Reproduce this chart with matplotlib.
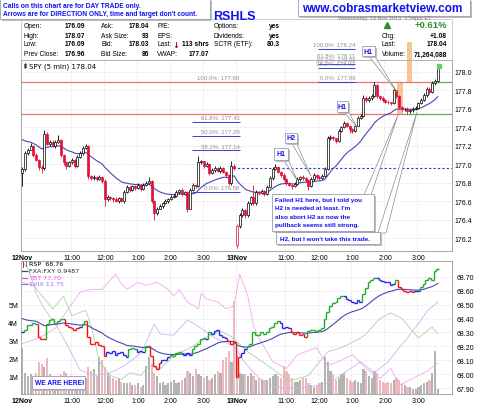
import numpy as np
import matplotlib
matplotlib.use('Agg')
import matplotlib.pyplot as plt
from matplotlib.patches import Rectangle, Polygon
from matplotlib.collections import LineCollection

plt.rcParams['font.family'] = ['Liberation Sans', 'DejaVu Sans']

# ------------------------------------------------ data
# SPY 5 min closes : 12 Nov (78 bars) then 13 Nov (74 bars)
spy_close = [
    176.95, 177.12, 177.16, 177.20, 177.10, 177.05, 176.97, 176.96, 177.33, 177.22,
    177.24, 177.20, 177.24, 177.26, 177.10, 177.02, 176.98, 177.02, 177.05, 176.98,
    177.08, 177.12, 177.18, 177.20, 176.87, 176.85, 176.86, 176.84, 176.86, 176.82,
    176.62, 176.65, 176.63, 176.62, 176.60, 176.63, 176.60, 176.70, 176.75, 176.72,
    176.76, 176.74, 176.78, 176.73, 176.78, 176.80, 176.82, 176.60, 176.47, 176.52,
    176.55, 176.58, 176.60, 176.62, 176.65, 176.66, 176.70, 176.72, 176.68, 176.70,
    176.52, 176.72, 176.78, 176.76, 177.02, 177.03, 176.98, 177.00, 176.90, 176.94,
    176.96, 176.93, 176.96, 176.92, 176.88, 176.80, 176.98, 176.96,
    176.33, 176.45, 176.50, 176.45, 176.58, 176.64, 176.58, 176.70, 176.69, 176.71,
    176.68, 176.75, 176.85, 176.95, 176.97, 176.92, 176.88, 176.84, 176.80, 176.78,
    176.76, 176.79, 176.84, 176.86, 176.85, 176.83, 176.76, 176.84, 176.88, 176.86,
    176.85, 176.87, 176.95, 177.28, 177.30, 177.28, 177.25, 177.36, 177.40, 177.45,
    177.42, 177.38, 177.36, 177.42, 177.50, 177.52, 177.72, 177.70, 177.72, 177.74,
    177.86, 177.74, 177.72, 177.70, 177.68, 177.67, 177.66, 177.80, 177.74, 177.62,
    177.60, 177.60, 177.58, 177.59, 177.60, 177.61, 177.66, 177.70, 177.75, 177.82,
    177.78, 177.88, 177.90, 178.04]
session_start = [0, 78]
session_open = [176.90, 176.12]
# wicks beyond the body, in cents
up_wick = [2,2,2,3,1,2,1,2,4,2,2,2,2,6,1,1,2,2,2,1,2,2,2,2,1,1,
           2,1,2,1,2,2,1,1,2,1,2,2,2,1,2,1,2,1,2,2,4,1,1,2,2,1,
           2,1,2,2,2,1,2,1,1,2,2,1,7,2,1,2,1,2,2,1,2,1,1,1,6,2,
           2,2,3,1,2,2,13,2,1,2,1,2,2,2,3,1,1,2,1,1,1,2,2,1,2,1,
           1,2,2,1,2,2,2,3,2,1,1,2,2,2,1,1,1,2,2,2,3,2,2,2,3,1,
           1,2,1,2,1,3,1,1,1,1,2,1,2,2,2,2,2,2,2,2,2,3]
dn_wick = [14,2,2,1,2,2,3,6,2,1,2,1,2,1,2,3,3,1,2,2,1,1,2,1,3,2,
           2,2,1,2,7,2,2,3,1,2,1,2,1,2,1,2,1,2,1,2,1,2,7,2,1,2,
           1,2,1,2,1,2,2,1,4,1,1,2,1,2,2,1,2,1,2,1,2,2,2,3,2,2,
           3,2,2,3,2,2,2,2,2,1,2,1,1,2,1,2,2,2,2,2,3,1,1,2,2,2,
           4,1,2,2,2,1,1,1,2,2,2,1,1,1,2,4,2,1,1,1,1,2,2,2,1,2,
           2,2,2,2,2,1,2,2,2,2,3,2,2,1,1,1,1,2,2,1,2,1]
# SPY volume, millions
spy_vol = [2.6, 1.2, 1.0, 1.1, 0.9, 1.2, 1.8, 1.7, 1.5, 2.0,
           1.1, 1.0, 0.9, 1.0, 1.1, 1.3, 1.2, 0.8, 0.9, 1.0,
           0.8, 0.9, 0.7, 0.8, 1.5, 1.3, 1.4, 1.0, 2.1, 1.9,
           1.5, 1.2, 1.0, 0.9, 0.8, 0.9, 0.7, 0.6, 0.6, 0.7,
           0.5, 0.5, 0.6, 0.4, 0.5, 1.6, 2.1, 1.7, 1.2, 1.0,
           0.6, 0.7, 0.5, 0.6, 0.7, 0.8, 0.6, 0.7, 0.8, 0.9,
           1.3, 1.2, 1.0, 1.4, 1.1, 1.0, 0.9, 1.0, 0.8, 0.9,
           1.1, 1.3, 1.2, 1.9, 2.1, 2.4, 1.8, 5.2,
           2.2, 1.2, 1.1, 1.1, 1.0, 1.2, 1.0, 0.8, 0.9, 0.8,
           0.8, 0.8, 0.9, 1.0, 1.1, 1.0, 0.9, 1.6, 1.3, 1.1,
           0.9, 0.7, 0.7, 0.8, 0.9, 0.9, 0.6, 0.5, 0.4, 0.5,
           0.6, 0.7, 2.1, 1.8, 1.3, 1.1, 0.8, 0.9, 1.1, 1.2,
           0.9, 0.8, 0.7, 0.8, 0.7, 0.6, 1.4, 1.3, 1.0, 0.9,
           1.3, 1.2, 0.8, 0.7, 0.6, 0.7, 0.6, 0.8, 0.9, 0.8,
           0.6, 0.5, 0.4, 0.4, 0.3, 0.3, 0.4, 0.5, 0.6, 0.7,
           0.8, 1.2, 2.4, 0.3]
# RSP closes (lower panel)
rsp_close = [68.30, 68.32, 68.35, 68.35, 68.37, 68.36, 68.27, 68.25, 68.25, 68.36,
             68.39, 68.40, 68.37, 68.38, 68.40, 68.40, 68.35, 68.34, 68.33, 68.32,
             68.33, 68.34, 68.36, 68.38, 68.27, 68.22, 68.22, 68.23, 68.21, 68.20,
             68.13, 68.16, 68.15, 68.17, 68.14, 68.15, 68.16, 68.14, 68.12, 68.18,
             68.19, 68.18, 68.16, 68.17, 68.16, 68.20, 68.20, 68.13, 68.06, 68.04,
             68.08, 68.10, 68.10, 68.12, 68.14, 68.13, 68.15, 68.16, 68.15, 68.14,
             68.15, 68.14, 68.18, 68.20, 68.22, 68.25, 68.26, 68.25, 68.30, 68.29,
             68.31, 68.32, 68.28, 68.27, 68.26, 68.24, 68.22, 68.23,
             67.98, 68.12, 68.15, 68.18, 68.20, 68.22, 68.30, 68.28, 68.28, 68.30,
             68.29, 68.30, 68.33, 68.34, 68.37, 68.38, 68.37, 68.33, 68.34, 68.33,
             68.30, 68.29, 68.30, 68.28, 68.29, 68.27, 68.31, 68.32, 68.32, 68.31,
             68.32, 68.33, 68.40, 68.45, 68.49, 68.51, 68.52, 68.55, 68.56, 68.56,
             68.54, 68.53, 68.52, 68.51, 68.53, 68.52, 68.58, 68.62, 68.66, 68.68,
             68.69, 68.69, 68.68, 68.67, 68.66, 68.66, 68.64, 68.65, 68.68, 68.63,
             68.61, 68.60, 68.59, 68.60, 68.59, 68.60, 68.60, 68.63, 68.65, 68.68,
             68.69, 68.68, 68.74, 68.76]
# comparison overlays, (bar, level on the panel scale)
fxa_bar = [0, 4, 11, 15, 18, 23, 25, 28, 32, 36, 39, 43, 46, 50, 54, 57, 61, 65, 68, 72, 76,
           82, 88, 97, 104, 111, 116, 123, 125, 130, 134, 138, 144, 149, 151]
fxa_val = [68.66, 68.64, 68.47, 68.56, 68.42, 68.46, 68.35, 68.09, 67.99, 67.96, 68.01, 67.99,
           68.06, 68.04, 68.11, 68.15, 68.19, 68.24, 68.28, 68.31, 68.27, 68.16, 68.08, 67.95,
           67.99, 68.16, 68.19, 68.26, 68.29, 68.40, 68.44, 68.40, 68.26, 68.34, 68.29]
tbt_bar = [0, 6, 12, 16, 21, 25, 29, 34, 36, 38, 42, 45, 49, 53, 55, 57, 60, 64, 65, 67, 71,
           74, 77, 79, 82, 84, 86, 91, 96, 100, 107, 111, 116, 120, 125, 130, 134, 137, 142,
           147, 151]
tbt_val = [68.22, 68.26, 68.33, 68.45, 68.59, 68.61, 68.61, 68.72, 68.65, 68.61, 68.66, 68.64,
           68.66, 68.61, 68.56, 68.61, 68.52, 68.47, 68.58, 68.54, 68.52, 68.47, 68.49, 68.72,
           68.56, 68.35, 68.26, 68.09, 68.04, 68.14, 68.19, 68.06, 68.10, 68.14, 68.04, 67.97,
           68.04, 67.92, 67.97, 68.02, 68.08]
vix_bar = [0, 2, 4, 5, 8, 12, 16, 21, 26, 32, 37, 43, 48, 50, 55, 60, 65, 70, 77, 81, 86, 92,
           98, 105, 112, 117, 123, 128, 133, 137, 140, 145, 147, 151]
vix_val = [68.81, 68.76, 68.65, 68.58, 68.47, 68.36, 68.22, 68.03, 67.99, 68.01, 68.06, 68.15,
           68.36, 68.29, 68.28, 68.39, 68.33, 68.26, 68.20, 68.08, 67.97, 67.91, 67.90, 67.91,
           67.94, 68.01, 68.09, 68.01, 68.09, 68.19, 68.26, 68.39, 68.45, 68.52]

tick_bars = [0, 18, 30, 42, 54, 66, 78, 96, 108, 120, 132, 144]
tick_text = ['12Nov', '11:00', '12:00', '1:00', '2:00', '3:00',
             '13Nov', '11:00', '12:00', '1:00', '2:00', '3:00']

fib1 = [(177.46, '61.8%: 177.43'), (177.31, '50.0%: 177.29'),
        (177.15, '38.2%: 177.14'), (176.70, '0.0%: 176.58')]
fib2 = [(178.25, '100.0%: 178.24'), (178.13, '61.8%: 178.11'), (178.09, '50.0%: 178.06'),
        (178.04, '38.2%: 178.02'), (177.89, '0.0%: 177.89')]
res_hi, res_lo, prev_close = 177.89, 177.55, 176.96


def ema(vals, span, seed=None):
    a = 2.0 / (span + 1)
    e = vals[0] if seed is None else seed
    out = []
    for v in vals:
        e = e + a * (v - e)
        out.append(e)
    return np.array(out)


close = np.array(spy_close)
n = len(close)
bars = np.arange(n)
opn = np.r_[close[0], close[:-1]]
for s, o in zip(session_start, session_open):
    opn[s] = o
hi = np.maximum(opn, close) + np.array(up_wick) / 100
lo = np.minimum(opn, close) - np.array(dn_wick) / 100
prev = np.r_[opn[0], close[:-1]]

W, H = 480, 406
fig = plt.figure(figsize=(4.8, 4.06), dpi=100)
XL = (-0.5, 156.2)
RED = '#e0103a'
grid_kw = dict(color='#c8c8c8', lw=0.5, ls=(0, (1, 2)))


def rect_px(x0, y0, x1, y1):
    return [x0 / W, 1 - y1 / H, (x1 - x0) / W, (y1 - y0) / H]


# ------------------------------------------------ price panel
ax = fig.add_axes(rect_px(21, 61, 452, 252))
ax.set_xlim(*XL)
ax.set_ylim(176.06, 178.13)
for t in tick_bars:
    ax.axvline(t - 0.5, **grid_kw, zorder=0)
for yv in np.arange(176.2, 178.01, 0.2):
    ax.axhline(yv, **grid_kw, zorder=0)

ax.add_patch(Rectangle((136.2, res_lo), 2.2, res_hi - res_lo, color='#f6b77a', alpha=0.8,
                       lw=0, zorder=1))
ax.add_patch(Rectangle((139.9, res_hi), 1.8, 0.43, color='#f6b77a', alpha=0.8, lw=0,
                       zorder=1, clip_on=False))

ax.hlines(res_hi, XL[0], 149, color='#f07070', lw=0.9, zorder=2)
ax.hlines(res_hi, 149, XL[1], color='#66aa66', lw=0.9, zorder=2)
ax.hlines(res_lo, XL[0], 137.5, color='#f07070', lw=0.9, zorder=2)
ax.hlines(res_lo, 137.5, XL[1], color='#66aa66', lw=0.9, zorder=2)
ax.hlines(prev_close, 76.5, XL[1], color='#2233ee', lw=0.8, ls=(0, (2, 2)), zorder=2)

ax.text(79, res_hi + 0.02, '100.0%: 177.89', ha='right', va='bottom', fontsize=4.3,
        color='#909090')
for lvl, lab in fib1:
    ax.hlines(lvl, 61.7, 79.1, color='#3344cc', lw=0.7, zorder=2)
    ax.text(79, lvl + 0.02, lab, ha='right', va='bottom', fontsize=4.3, color='#909090')
for lvl, lab in fib2:
    ax.hlines(lvl, 107.5, 121, color='#3344cc', lw=0.7, zorder=2, clip_on=False)
    ax.text(121, lvl + 0.02, lab, ha='right', va='bottom', fontsize=4.3, color='#909090',
            clip_on=False)

ax.plot(bars, ema(close, 20, seed=177.30), color='#4848b8', lw=0.8, zorder=3)

for i in bars:
    col = RED if close[i] < prev[i] else 'black'
    ax.vlines(i, lo[i], hi[i], color=col, lw=0.6, zorder=4)
    b0, b1 = min(opn[i], close[i]), max(opn[i], close[i])
    face = RED if close[i] < opn[i] else 'white'
    ax.add_patch(Rectangle((i - 0.36, b0), 0.72, max(b1 - b0, 0.004), facecolor=face,
                           edgecolor=col, lw=0.5, zorder=5))
ax.plot(n - 0.7, 178.06, marker='s', ms=2.5, color='#66cc66', zorder=6)

ax.yaxis.tick_right()
ax.set_yticks(np.arange(176.2, 178.01, 0.2))
ax.set_yticklabels(['%.1f' % v for v in np.arange(176.2, 178.01, 0.2)])
ax.set_xticks(tick_bars)
ax.set_xticklabels(tick_text)
ax.tick_params(length=0, labelsize=5, pad=2)
for lab in ax.get_xticklabels():
    if 'Nov' in lab.get_text():
        lab.set_fontweight('bold')
for sp in ax.spines.values():
    sp.set_color('#999999')
    sp.set_linewidth(0.6)

# ------------------------------------------------ lower panel
axv = fig.add_axes(rect_px(21, 262, 452, 395))
axv.set_xlim(*XL)
axv.set_ylim(0, 7.47)
vcol = ['#9a9a9a' if c >= p else '#e8a0a8' for c, p in zip(close, prev)]
axv.bar(bars, spy_vol, width=0.8, color=vcol, alpha=0.75, lw=0)
axv.set_yticks([1, 2, 3, 4, 5])
axv.set_yticklabels(['1M', '2M', '3M', '4M', '5M'])
axv.set_xticks(tick_bars)
axv.set_xticklabels(tick_text)
axv.tick_params(length=0, labelsize=5, pad=2)
for lab in axv.get_xticklabels():
    if 'Nov' in lab.get_text():
        lab.set_fontweight('bold')
for sp in axv.spines.values():
    sp.set_color('#999999')
    sp.set_linewidth(0.6)

axr = axv.twinx()
axr.set_xlim(*XL)
axr.set_ylim(67.857, 68.814)
rt = np.arange(67.9, 68.71, 0.1)
for yv in rt:
    axr.axhline(yv, **grid_kw, zorder=0)
for t in tick_bars:
    axr.axvline(t - 0.5, **grid_kw, zorder=0)
axr.set_yticks(rt)
axr.set_yticklabels(['%.2f' % v for v in rt])
axr.tick_params(length=0, labelsize=5, pad=3)
for sp in axr.spines.values():
    sp.set_visible(False)

axr.plot(fxa_bar, fxa_val, color='#a8d4a8', lw=0.6)
axr.plot(tbt_bar, tbt_val, color='#f0a8f0', lw=0.6)
axr.plot(vix_bar, vix_val, color='#cdb4f2', lw=0.6)

rsp = np.array(rsp_close)
axr.plot(bars, ema(rsp, 20, seed=68.41), color='#4848b8', lw=0.8)

# impulse colouring of the RSP steps
e13 = ema(rsp, 13)
macd = ema(rsp, 12) - ema(rsp, 26)
hist = macd - ema(macd, 9)
de = np.diff(e13, prepend=e13[0])
dh = np.diff(hist, prepend=hist[0])
segs, cols = [], []
for i in bars:
    c = '#1faa1f' if (de[i] > 0 and dh[i] > 0) else ('#ee1111' if (de[i] < 0 and dh[i] < 0)
                                                   else '#2020ee')
    if i > 0:
        segs.append([(i - 0.5, rsp[i - 1]), (i - 0.5, rsp[i])])
        cols.append(c)
    segs.append([(i - 0.5, rsp[i]), (i + 0.5, rsp[i])])
    cols.append(c)
axr.add_collection(LineCollection(segs, colors=cols, lw=1.0))

# ------------------------------------------------ overlay (header, notes)
ov = fig.add_axes([0, 0, 1, 1], zorder=10)
ov.set_xlim(0, W)
ov.set_ylim(H, 0)
ov.axis('off')

BLUE = '#1010f0'


def box(x0, y0, x1, y1, edge='#9a9ab0', shadow=True):
    if shadow:
        ov.add_patch(Rectangle((x0 + 1.5, y0 + 1.5), x1 - x0, y1 - y0, color='#bdbdbd', lw=0))
    ov.add_patch(Rectangle((x0, y0), x1 - x0, y1 - y0, facecolor='white', edgecolor=edge,
                           lw=0.6))


def tail(bx0, bx1, by, tx, ty):
    ov.add_patch(Polygon([(bx0, by), (tx, ty), (bx1, by)], closed=True, facecolor='white',
                         edgecolor='#8c8c8c', lw=0.5))


# header block
ov.add_patch(Rectangle((21, 20), 431, 41, facecolor='none', edgecolor='#bbbbbb', lw=0.5))
ov.text(338, 18.8, 'Wednesday, 13 Nov 2013  3:54pm ET', fontsize=4, color='#808080',
        va='center')
box(298, 0, 470, 17)
ov.text(302, 8.5, 'www.cobrasmarketview.com', fontsize=8.5, fontweight='bold', color=BLUE,
        va='center')
ov.text(213, 16.5, 'RSHLS', fontsize=9, fontweight='bold', color=BLUE, va='center')
box(0, 0, 210, 20)
ov.text(3, 6, 'Calls on this chart are for DAY TRADE only.', fontsize=4.8,
        fontweight='bold', color=BLUE, va='center')
ov.text(3, 15, "Arrows are for DIRECTION ONLY, time and target don't count.", fontsize=4.8,
        fontweight='bold', color=BLUE, va='center')

rows_y = [27, 36, 45, 54]
cols_tbl = [(24, 85, ['Open:', 'High:', 'Low:', 'Prev Close:'],
             ['176.09', '178.07', '176.09', '176.96']),
            (101, 149, ['Ask:', 'Ask Size:', 'Bid:', 'Bid Size:'],
             ['178.04', '93', '178.03', '86']),
            (157, 209, ['P/E:', 'EPS:', 'Last:', 'VWAP:'], ['', '', '113 shrs', '177.07']),
            (214, 280, ['Options:', 'Dividends:', 'SCTR (ETF):', ''], ['yes', 'yes', '80.3', ''])]
for lx, vx, labs, vals in cols_tbl:
    for yy, lab, val in zip(rows_y, labs, vals):
        ov.text(lx, yy, lab, fontsize=4.8, va='center')
        ov.text(vx, yy, val, fontsize=4.8, fontweight='bold', va='center', ha='right')
ov.text(176, 45, '\u2193', fontsize=6, fontweight='bold', color='#cc0000', va='center',
        ha='center', family='DejaVu Sans')

ov.plot(386.5, 26, marker='^', ms=5, color='#2e8b2e')
ov.text(447, 25.5, '+0.61%', fontsize=6.8, fontweight='bold', color='#2e8b2e', ha='right',
        va='center')
for yy, lab, val in zip([36, 45, 55], ['Chg:', 'Last:', 'Volume:'],
                        ['+1.08', '178.04', '71,264,088']):
    ov.text(382, yy, lab, fontsize=4.8, va='center')
    ov.text(447, yy, val, fontsize=4.8, fontweight='bold', va='center', ha='right')

# price panel legend
ov.plot([24.5, 24.5], [63.5, 69], color='black', lw=0.5)
ov.add_patch(Rectangle((23.5, 64.5), 2, 3, facecolor='white', edgecolor='black', lw=0.4))
ov.text(29, 66.5, 'SPY (5 min) 178.04', fontsize=5, va='center',
        family='DejaVu Sans')

# lower panel legend
ov.plot([23, 23], [263, 267.5], color='#ee1111', lw=0.7)
ov.plot([25.5, 25.5], [262.5, 267], color='#1faa1f', lw=0.7)
ov.text(29, 265, 'RSP  68.76', fontsize=4.6, va='center', family='DejaVu Sans')
leg = [(272, '#335533', 'FXA:FXY 0.9487', '#223322'), (278.5, '#ff44ff', 'TBT 77.70', '#ff44ff'),
       (285, '#a066ff', '$VIX 12.75', '#a066ff')]
for yy, lc, txt, tc in leg:
    ov.plot([22, 27], [yy, yy], color=lc, lw=0.9)
    ov.text(29, yy, txt, fontsize=4.6, va='center', color=tc, family='DejaVu Sans')

# callouts
tail(283, 288, 160, 297, 181)
tail(291, 296, 143, 311, 177)
tail(343, 348, 112, 357, 128)
tail(368, 374, 56, 397, 93)
tail(364, 371, 196, 398, 116)
tail(378, 386, 234, 417, 113)
for (x0, y0, x1, y1) in [(274, 149, 288, 161), (285, 134, 297, 144), (337, 102, 348, 113),
                         (362, 47, 375, 57)]:
    box(x0, y0, x1, y1)
for (x0, y0, x1, y1), lab in zip([(274, 149, 288, 161), (285, 134, 297, 144),
                                  (337, 102, 348, 113), (362, 47, 375, 57)],
                                 ['H1', 'H2', 'H1', 'H1']):
    ov.text((x0 + x1) / 2, (y0 + y1) / 2, lab, fontsize=5, fontweight='bold', color=BLUE,
            ha='center', va='center')
box(272, 195, 374, 232)
note = ["Failed H1 here, but I told you", "H2 is needed at least. I'm",
        "also abort H2 as now the", "pullback seems still strong."]
for k, line in enumerate(note):
    ov.text(275, 200.5 + k * 8.3, line, fontsize=4.6, fontweight='bold', color=BLUE,
            va='center')
box(276, 233, 380, 245)
ov.text(280, 239, "H2, but I won't take this trade.", fontsize=4.6, fontweight='bold',
        color=BLUE, va='center')

box(32, 377, 85, 390)
ov.text(35, 383.5, 'WE ARE HERE!', fontsize=4.8, fontweight='bold', color=BLUE, va='center')

fig.savefig('out.png', dpi=100)
